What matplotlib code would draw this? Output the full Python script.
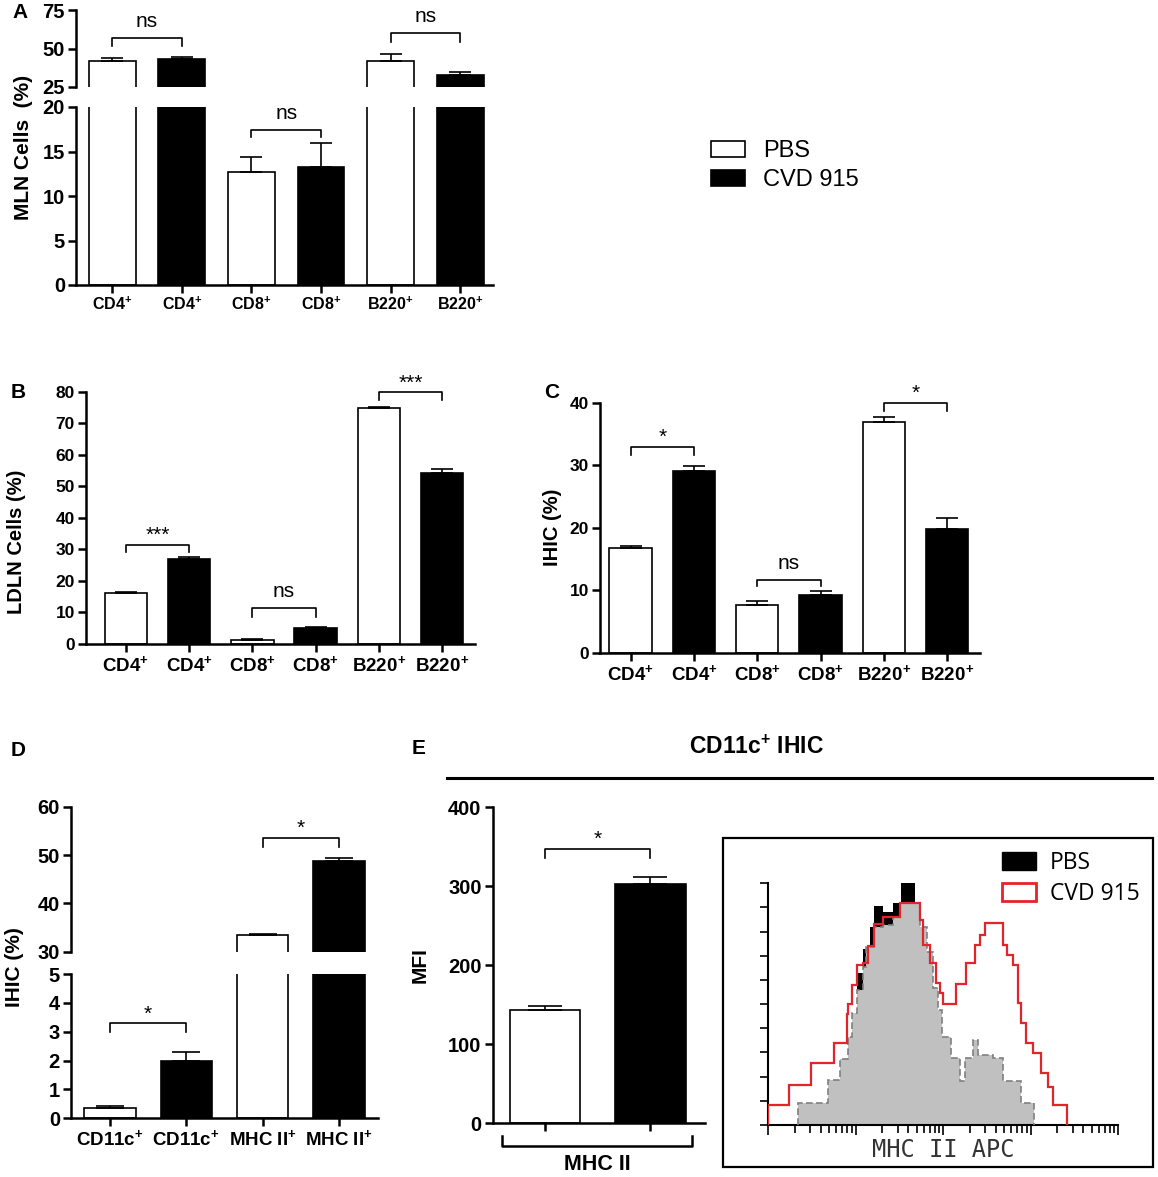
import numpy as np
import matplotlib
matplotlib.use('Agg')
import matplotlib.pyplot as plt
from matplotlib.patches import Patch, Rectangle
from matplotlib.lines import Line2D
from matplotlib.ticker import LogLocator, NullFormatter

plt.rcParams['font.family'] = ['Liberation Sans', 'DejaVu Sans']
plt.rcParams['mathtext.fontset'] = 'custom'
plt.rcParams['mathtext.rm'] = 'Liberation Sans'
plt.rcParams['mathtext.bf'] = 'Liberation Sans:bold'

# ---- data ----
groups = ['PBS', 'CVD 915']
cells = ['CD4', 'CD8', 'B220']
dc_cells = ['CD11c', 'MHC II']

# A: MLN cells (%)
mln_pbs = [42.0, 12.7, 42.0]
mln_pbs_err = [2.0, 1.7, 4.5]
mln_cvd = [43.0, 13.3, 33.0]
mln_cvd_err = [1.3, 2.6, 2.0]

# B: LDLN cells (%)
ldln_pbs = [16.2, 1.3, 74.9]
ldln_pbs_err = [0.2, 0.3, 0.2]
ldln_cvd = [27.0, 5.1, 54.2]
ldln_cvd_err = [0.7, 0.3, 1.3]

# C: IHIC (%)
ihic_pbs = [16.7, 7.7, 36.9]
ihic_pbs_err = [0.4, 0.6, 0.8]
ihic_cvd = [29.0, 9.2, 19.8]
ihic_cvd_err = [0.9, 0.7, 1.7]

# D: IHIC (%) dendritic cells
dc_pbs = [0.37, 33.4]
dc_pbs_err = [0.06, 0.3]
dc_cvd = [2.0, 48.7]
dc_cvd_err = [0.28, 0.7]

# E: MFI of MHC II
mfi_pbs = [143.4]
mfi_pbs_err = [5.0]
mfi_cvd = [302.9]
mfi_cvd_err = [9.3]

# significance brackets: (bar i, bar j, top, leg end, label)
mln_sig_top = [(0, 1, 56.8, 51.4, 'ns'), (4, 5, 60.2, 54.3, 'ns')]
mln_sig_bot = [(2, 3, 17.4, 16.6, 'ns')]
ldln_sig = [(0, 1, 31.4, 29.3, '***'), (2, 3, 11.3, 8.7, 'ns'), (4, 5, 79.8, 77.4, '***')]
ihic_sig = [(0, 1, 32.9, 31.7, '*'), (2, 3, 11.6, 10.6, 'ns'), (4, 5, 40.0, 38.7, '*')]
dc_sig_top = [(2, 3, 53.6, 51.7, '*')]
dc_sig_bot = [(0, 1, 3.29, 2.98, '*')]
mfi_sig = [(0, 1, 346.8, 336.0, '*')]

# flow histogram, MHC II APC (bin edges in log10 units, counts in axis ticks)
cvd_edges = [0, 0.24, 0.483, 0.749, 0.894, 0.913, 0.962, 1.015, 1.084, 1.141, 1.205,
             1.312, 1.502, 1.730, 1.768, 1.852, 1.913, 1.958, 1.996, 2.148, 2.262,
             2.357, 2.414, 2.471, 2.681, 2.726, 2.795, 2.852, 2.890, 2.947, 3.023,
             3.118, 3.194, 3.251, 3.411]
cvd_counts = [0.83, 1.66, 2.55, 3.4, 4.6, 5.0, 5.8, 6.6, 6.7, 7.4, 8.3, 8.6, 9.17,
              8.5, 7.45, 6.7, 5.86, 5.45, 5.0, 5.83, 6.7, 7.45, 7.86, 8.34, 7.45,
              7.03, 6.62, 5.03, 4.2, 3.4, 2.97, 2.14, 1.59, 0.83]
pbs_edges = [0.342, 0.684, 0.817, 0.913, 0.962, 1.015, 1.084, 1.122, 1.160, 1.205,
             1.312, 1.426, 1.502, 1.521, 1.673, 1.730, 1.814, 1.882, 1.939, 1.989,
             2.091, 2.186, 2.243, 2.338, 2.395, 2.567, 2.681, 2.890, 3.042]
pbs_counts = [0.92, 1.86, 2.72, 3.66, 4.62, 6.3, 7.3, 7.3, 8.2, 9.06, 8.8, 9.17,
              9.17, 10.0, 9.17, 8.2, 7.17, 5.66, 4.76, 3.66, 2.76, 1.8, 2.76, 3.5,
              2.9, 2.76, 1.8, 0.92]
iso_edges = [0.342, 0.684, 0.817, 0.913, 0.962, 1.015, 1.084, 1.122, 1.205, 1.312,
             1.426, 1.502, 1.730, 1.814, 1.882, 1.939, 1.989, 2.091, 2.186, 2.243,
             2.338, 2.395, 2.567, 2.681, 2.890, 3.042]
iso_counts = [0.92, 1.86, 2.72, 3.66, 4.62, 5.59, 6.55, 7.38, 8.2, 8.28, 8.6, 9.17,
              8.2, 7.17, 5.66, 4.76, 3.66, 2.76, 1.8, 2.76, 3.5, 2.9, 2.76, 1.8, 0.92]

W, H = 1158, 1177
fig = plt.figure(figsize=(W / 100, H / 100), dpi=100)


def add_ax(l, t, r, b):
    return fig.add_axes([l / W, 1 - b / H, (r - l) / W, (b - t) / H])


def plus_labels(names):
    return [n + r'$^{\mathbf{+}}$' for n in names for _ in range(2)]


def draw_bars(ax, pbs, pbs_err, cvd, cvd_err, capsize):
    vals = np.ravel(np.column_stack([pbs, cvd]))
    errs = np.ravel(np.column_stack([pbs_err, cvd_err]))
    x = np.arange(len(vals))
    ax.bar(x, vals, width=0.67, color=['white', 'black'] * len(pbs),
           edgecolor='black', linewidth=1.2, zorder=2)
    ax.errorbar(x, vals, yerr=[np.zeros(len(vals)), errs], fmt='none', ecolor='black',
                elinewidth=1.2, capsize=capsize, capthick=1.2, zorder=3)
    return x


def style(ax, yfs, xfs=12):
    for s in ['top', 'right']:
        ax.spines[s].set_visible(False)
    for s in ['left', 'bottom']:
        ax.spines[s].set_linewidth(1.8)
    ax.tick_params(width=1.8, length=6, pad=2)
    ax.tick_params(axis='y', labelsize=yfs)
    ax.tick_params(axis='x', labelsize=xfs)
    for t in ax.get_yticklabels() + ax.get_xticklabels():
        t.set_fontweight('bold')


def brackets(ax, specs, fs=15):
    for i, j, top, low, lab in specs:
        ax.plot([i, i, j, j], [low, top, top, low], color='black', lw=1.2, clip_on=False)
        dy = 5 if lab == 'ns' else 0
        ax.annotate(lab, xy=((i + j) / 2, top), xytext=(0, dy), textcoords='offset points',
                    ha='center', va='bottom', fontsize=fs, annotation_clip=False)


# ---- A ----
ax_at = add_ax(76, 10, 493, 87)
ax_ab = add_ax(76, 107, 493, 285)
for ax in (ax_at, ax_ab):
    x = draw_bars(ax, mln_pbs, mln_pbs_err, mln_cvd, mln_cvd_err, 8)
    ax.set_xlim(-0.52, 5.47)
    ax.set_xticks(x)
ax_at.set_ylim(25, 75)
ax_at.set_yticks([25, 50, 75])
ax_ab.set_ylim(0, 20)
ax_ab.set_yticks([0, 5, 10, 15, 20])
ax_ab.set_xticklabels(plus_labels(cells))
style(ax_at, 14.5)
style(ax_ab, 14.5, 11.5)
ax_at.spines['bottom'].set_visible(False)
ax_at.tick_params(axis='x', bottom=False, labelbottom=False)
brackets(ax_at, mln_sig_top)
brackets(ax_ab, mln_sig_bot)
fig.text(24 / W, 1 - 147 / H, 'MLN Cells  (%)', rotation=90, ha='center', va='center',
         fontsize=15, fontweight='bold')
fig.text(20 / W, 1 - 13 / H, 'A', ha='center', va='center', fontsize=15, fontweight='bold')

fig.legend([Patch(facecolor='white', edgecolor='black', linewidth=1.2),
            Patch(facecolor='black', edgecolor='black', linewidth=1.2)], groups,
           loc='upper left', bbox_to_anchor=(711 / W, 1 - 140 / H), frameon=False,
           fontsize=17, handlelength=1.44, handleheight=0.69, handletextpad=0.76,
           labelspacing=0.3, borderpad=0, borderaxespad=0)

# ---- B ----
ax_b = add_ax(86, 391.7, 475, 644)
x = draw_bars(ax_b, ldln_pbs, ldln_pbs_err, ldln_cvd, ldln_cvd_err, 8)
ax_b.set_xlim(-0.63, 5.52)
ax_b.set_ylim(0, 80)
ax_b.set_yticks(np.arange(0, 81, 10))
ax_b.set_xticks(x)
ax_b.set_xticklabels(plus_labels(cells))
style(ax_b, 12.5, 13.5)
brackets(ax_b, ldln_sig)
fig.text(17 / W, 1 - 542 / H, 'LDLN Cells (%)', rotation=90, ha='center', va='center',
         fontsize=14.5, fontweight='bold')
fig.text(18 / W, 1 - 392 / H, 'B', ha='center', va='center', fontsize=15, fontweight='bold')

# ---- C ----
ax_c = add_ax(600, 402.7, 980, 652.7)
x = draw_bars(ax_c, ihic_pbs, ihic_pbs_err, ihic_cvd, ihic_cvd_err, 8)
ax_c.set_xlim(-0.485, 5.52)
ax_c.set_ylim(0, 40)
ax_c.set_yticks([0, 10, 20, 30, 40])
ax_c.set_xticks(x)
ax_c.set_xticklabels(plus_labels(cells))
style(ax_c, 12.5, 13.5)
brackets(ax_c, ihic_sig)
fig.text(553 / W, 1 - 527 / H, 'IHIC (%)', rotation=90, ha='center', va='center',
         fontsize=14.5, fontweight='bold')
fig.text(552 / W, 1 - 392 / H, 'C', ha='center', va='center', fontsize=15, fontweight='bold')

# ---- D ----
ax_dt = add_ax(71, 806.7, 378, 951.7)
ax_db = add_ax(71, 974, 378, 1118.3)
for ax in (ax_dt, ax_db):
    x = draw_bars(ax, dc_pbs, dc_pbs_err, dc_cvd, dc_cvd_err, 10)
    ax.set_xlim(-0.51, 3.51)
    ax.set_xticks(x)
ax_dt.set_ylim(30, 60)
ax_dt.set_yticks([30, 40, 50, 60])
ax_db.set_ylim(0, 5)
ax_db.set_yticks(range(6))
ax_db.set_xticklabels(plus_labels(dc_cells))
style(ax_dt, 14.5)
style(ax_db, 14.5, 13.5)
ax_dt.spines['bottom'].set_visible(False)
ax_dt.tick_params(axis='x', bottom=False, labelbottom=False)
brackets(ax_dt, dc_sig_top)
brackets(ax_db, dc_sig_bot)
fig.text(15 / W, 1 - 967 / H, 'IHIC (%)', rotation=90, ha='center', va='center',
         fontsize=15, fontweight='bold')
fig.text(18 / W, 1 - 750 / H, 'D', ha='center', va='center', fontsize=15, fontweight='bold')

# ---- E ----
fig.text(419 / W, 1 - 748 / H, 'E', ha='center', va='center', fontsize=15, fontweight='bold')
fig.text(756 / W, 1 - 747 / H, r'CD11c$^{\mathbf{+}}$ IHIC', ha='center', va='center',
         fontsize=16.5, fontweight='bold')
fig.add_artist(Line2D([446.7 / W, 1151.7 / W], [1 - 778 / H, 1 - 778 / H],
                      transform=fig.transFigure, color='black', lw=2.2))

ax_e = add_ax(492.7, 807.3, 705, 1123.3)
x = draw_bars(ax_e, mfi_pbs, mfi_pbs_err, mfi_cvd, mfi_cvd_err, 12.5)
ax_e.set_xlim(-0.5, 1.52)
ax_e.set_ylim(0, 400)
ax_e.set_yticks([0, 100, 200, 300, 400])
ax_e.set_xticks(x)
ax_e.set_xticklabels([])
style(ax_e, 14.5)
brackets(ax_e, mfi_sig)
tr = ax_e.get_xaxis_transform()
ax_e.plot([-0.414, -0.414, 1.40, 1.40], [-0.040, -0.072, -0.072, -0.040], transform=tr,
          color='black', lw=1.8, clip_on=False)
ax_e.text(0.5, -0.13, dc_cells[1], transform=tr, ha='center', va='center',
          fontsize=15.5, fontweight='bold')
fig.text(420 / W, 1 - 965 / H, 'MFI', rotation=90, ha='center', va='center',
         fontsize=15, fontweight='bold')

# ---- histogram ----
fig.add_artist(Rectangle((722.7 / W, 1 - 1166.7 / H), (1153 - 722.7) / W, (1166.7 - 838.3) / H,
                         transform=fig.transFigure, fill=False, edgecolor='black', lw=1.6))
ax_h = add_ax(768.3, 883.3, 1118.3, 1125)
ax_h.stairs(pbs_counts, np.power(10.0, pbs_edges), fill=True, color='black', zorder=1)
ax_h.stairs(iso_counts, np.power(10.0, iso_edges), fill=True, color='#c0c0c0', zorder=2)
ax_h.stairs(iso_counts, np.power(10.0, iso_edges), color='#808080', lw=1.2,
            linestyle=(0, (4, 2)), zorder=3)
ax_h.stairs(cvd_counts, np.power(10.0, cvd_edges), color='#e3242b', lw=1.6, zorder=4)
ax_h.set_xscale('log')
ax_h.set_xlim(1, 1e4)
ax_h.set_ylim(0, 10)
ax_h.set_yticks(range(11))
ax_h.yaxis.set_major_formatter(NullFormatter())
ax_h.xaxis.set_major_locator(LogLocator(base=10, numticks=10))
ax_h.xaxis.set_minor_locator(LogLocator(base=10, subs=np.arange(2, 10), numticks=50))
ax_h.xaxis.set_major_formatter(NullFormatter())
ax_h.xaxis.set_minor_formatter(NullFormatter())
for s in ['top', 'right']:
    ax_h.spines[s].set_visible(False)
for s in ['left', 'bottom']:
    ax_h.spines[s].set_linewidth(1.5)
ax_h.tick_params(axis='y', length=6, width=1.2)
ax_h.tick_params(axis='x', which='major', length=7, width=1.2)
ax_h.tick_params(axis='x', which='minor', length=6, width=1.2)
ax_h.text(0.5, -0.103, 'MHC II APC', transform=ax_h.transAxes, ha='center', va='center',
          fontsize=17, family='DejaVu Sans Mono', color='#333333')
ax_h.legend([Patch(facecolor='black', edgecolor='black'),
             Patch(facecolor='white', edgecolor='#e3242b', linewidth=2)], groups,
            loc='upper left', bbox_to_anchor=(1001.7 / W, 1 - 851 / H),
            bbox_transform=fig.transFigure, frameon=False, prop={'family': 'Open Sans', 'size': 16.5},
            handlelength=1.5, handleheight=0.78, handletextpad=0.6, labelspacing=0.3,
            borderpad=0, borderaxespad=0)

fig.savefig('out.png', dpi=100)
